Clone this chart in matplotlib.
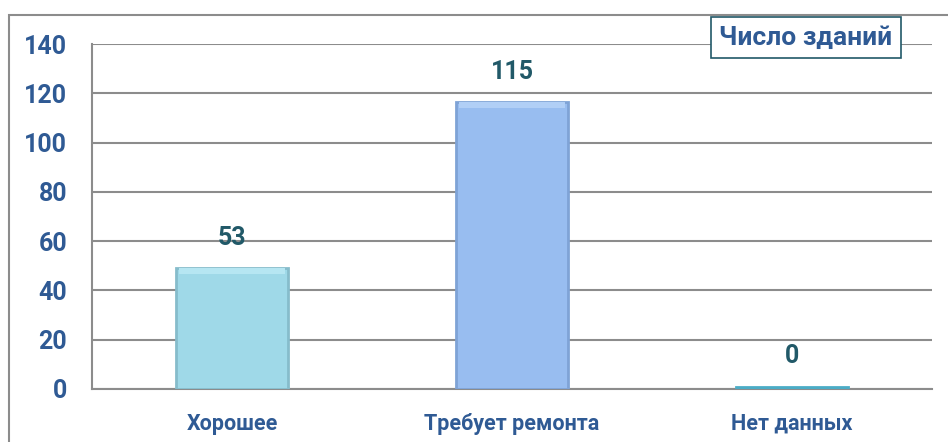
import matplotlib.pyplot as plt
from matplotlib.patches import Rectangle

# data
categories = ["Хорошее", "Требует ремонта", "Нет данных"]
bar_heights = [49, 116.5, 1]
value_labels = ["53", "115", "0"]
y_ticks = [0, 20, 40, 60, 80, 100, 120, 140]
legend_title = "Число зданий"

face_colors = ["#9fd9e8", "#98bdf0", "#4bacc6"]
edge_colors = ["#86bccb", "#7fa3d6", "#4bacc6"]
top_colors = ["#b6e6f2", "#b1cff6", "#4bacc6"]
tick_color = "#2f5a94"
label_color = "#215968"
grid_color = "#8c8c8c"

plt.rcParams["font.family"] = ["Roboto", "Open Sans", "DejaVu Sans"]

fig = plt.figure(figsize=(9.48, 4.42), dpi=100)

# outer chart border, cut off at right/bottom like the reference
fig.patches.append(Rectangle((9 / 948, -0.05), 1.0, 1 - 15 / 442 + 0.05,
                             transform=fig.transFigure, fill=False,
                             edgecolor=grid_color, linewidth=1.5))

ax = fig.add_axes([92 / 948, 53 / 442, 840 / 948, 345 / 442])
x = list(range(len(categories)))
width = 0.40
ax.bar(x, bar_heights, width=width, color=face_colors, edgecolor=edge_colors,
       linewidth=2, zorder=3)

# soft bevel along the top of the taller bars
for xi, h, c in zip(x, bar_heights, top_colors):
    if h > 5:
        band = 2.5
        ax.bar(xi, band, bottom=h - band, width=width * 0.94, color=c,
               linewidth=0, zorder=4)

for xi, h, lab in zip(x, bar_heights, value_labels):
    ax.text(xi, h + 12.3, lab, ha="center", va="center", fontsize=18,
            fontweight="bold", color=label_color, zorder=5)

ax.set_xlim(-0.5, 2.5)
ax.set_ylim(0, 140)
ax.set_yticks(y_ticks)
ax.set_xticks(x)
ax.set_xticklabels(categories)
ax.yaxis.grid(True, color=grid_color, linewidth=1.5, zorder=0)
ax.set_axisbelow(True)
for side in ["top", "right"]:
    ax.spines[side].set_visible(False)
for side in ["left", "bottom"]:
    ax.spines[side].set_color(grid_color)
    ax.spines[side].set_linewidth(1.5)
ax.tick_params(axis="both", length=0, colors=tick_color)
ax.tick_params(axis="y", pad=18)
ax.tick_params(axis="x", pad=17)
for t in ax.get_yticklabels():
    t.set_fontsize(18)
    t.set_fontweight("bold")
for t in ax.get_xticklabels():
    t.set_fontsize(15.5)
    t.set_fontweight("bold")

fig.text(806 / 948, 1 - 37.5 / 442, legend_title, ha="center", va="center",
         fontsize=19, fontweight="bold", color=tick_color,
         bbox=dict(boxstyle="square,pad=0.32", facecolor="white",
                   edgecolor=label_color, linewidth=1.2))

fig.savefig("out.png", dpi=100)
